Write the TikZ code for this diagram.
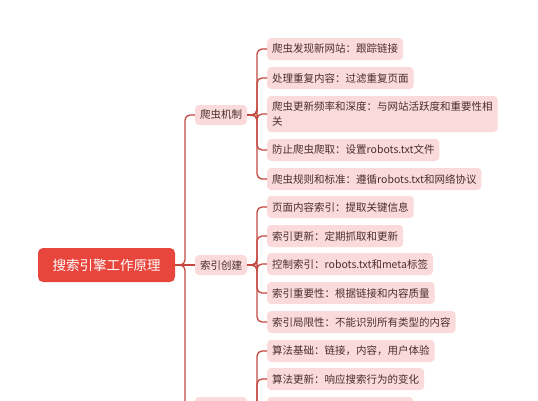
\documentclass[tikz,border=0pt]{standalone}
\usepackage{fontspec}
\setmainfont{Noto Sans CJK SC}
\definecolor{leafpink}{HTML}{FADADA}
\definecolor{rootred}{HTML}{E8453C}
\definecolor{linec}{HTML}{C4483F}
\definecolor{txt}{HTML}{4A2E2E}
\tikzset{
  leaf/.style={fill=leafpink, rounded corners=4pt, anchor=west, minimum height=22pt,
    inner xsep=5pt, inner ysep=0pt, text=txt, align=left, font=\fontsize{10.5}{15}\selectfont},
  branch/.style={fill=leafpink, rounded corners=4pt, minimum width=52pt, minimum height=20pt,
    inner sep=0pt, text=txt, font=\fontsize{10.5}{13}\selectfont},
  rootbox/.style={fill=rootred, rounded corners=5pt, minimum width=137pt, minimum height=34pt,
    inner sep=0pt, text=white, font=\fontsize{13.5}{16}\selectfont},
  conn/.style={draw=linec, line width=1.3pt, rounded corners=5pt}
}
\begin{document}
\begin{tikzpicture}[x=1pt,y=-1pt]
\useasboundingbox (0,0) rectangle (538,400);
\clip (0,0) rectangle (538,400);
\fill[white] (0,0) rectangle (538,400);
% root and branches
\node[rootbox] (root) at (106.5,265) {搜索引擎工作原理};
\node[branch] (b1) at (221,115) {爬虫机制};
\node[branch] (b2) at (221,265) {索引创建};
\node[branch] (b3) at (221,407) {};
% leaves of branch 1
\node[leaf] (l11) at (267,49) {爬虫发现新网站：跟踪链接};
\node[leaf] (l12) at (267,78) {处理重复内容：过滤重复页面};
\node[leaf, minimum height=36pt] (l13) at (267,114) {爬虫更新频率和深度：与网站活跃度和重要性相\\关};
\node[leaf] (l14) at (267,150) {防止爬虫爬取：设置robots.txt文件};
\node[leaf] (l15) at (267,179) {爬虫规则和标准：遵循robots.txt和网络协议};
% leaves of branch 2
\node[leaf] (l21) at (267,207) {页面内容索引：提取关键信息};
\node[leaf] (l22) at (267,236) {索引更新：定期抓取和更新};
\node[leaf] (l23) at (267,264) {控制索引：robots.txt和meta标签};
\node[leaf] (l24) at (267,293) {索引重要性：根据链接和内容质量};
\node[leaf] (l25) at (267,322) {索引局限性：不能识别所有类型的内容};
% leaves of branch 3
\node[leaf] (l31) at (267,351) {算法基础：链接，内容，用户体验};
\node[leaf] (l32) at (267,379) {算法更新：响应搜索行为的变化};
\node[leaf, minimum width=146pt] (l33) at (267,408) {};
% connectors
\coordinate (trunk) at (185,265);
\coordinate (j1) at (257,115);
\coordinate (j2) at (257,265);
\coordinate (j3) at (257,407);
\draw[conn] (root.east) -- (b2.west);
\draw[conn] (root.east) -- (trunk) |- (b1.west);
\draw[conn] (root.east) -- (trunk) |- (b3.west);
\foreach \l in {l11,l12,l13,l14,l15} \draw[conn] (b1.east) -- (j1) |- (\l.west);
\foreach \l in {l21,l22,l23,l24,l25} \draw[conn] (b2.east) -- (j2) |- (\l.west);
\foreach \l in {l31,l32,l33} \draw[conn] (b3.east) -- (j3) |- (\l.west);
\end{tikzpicture}
\end{document}
